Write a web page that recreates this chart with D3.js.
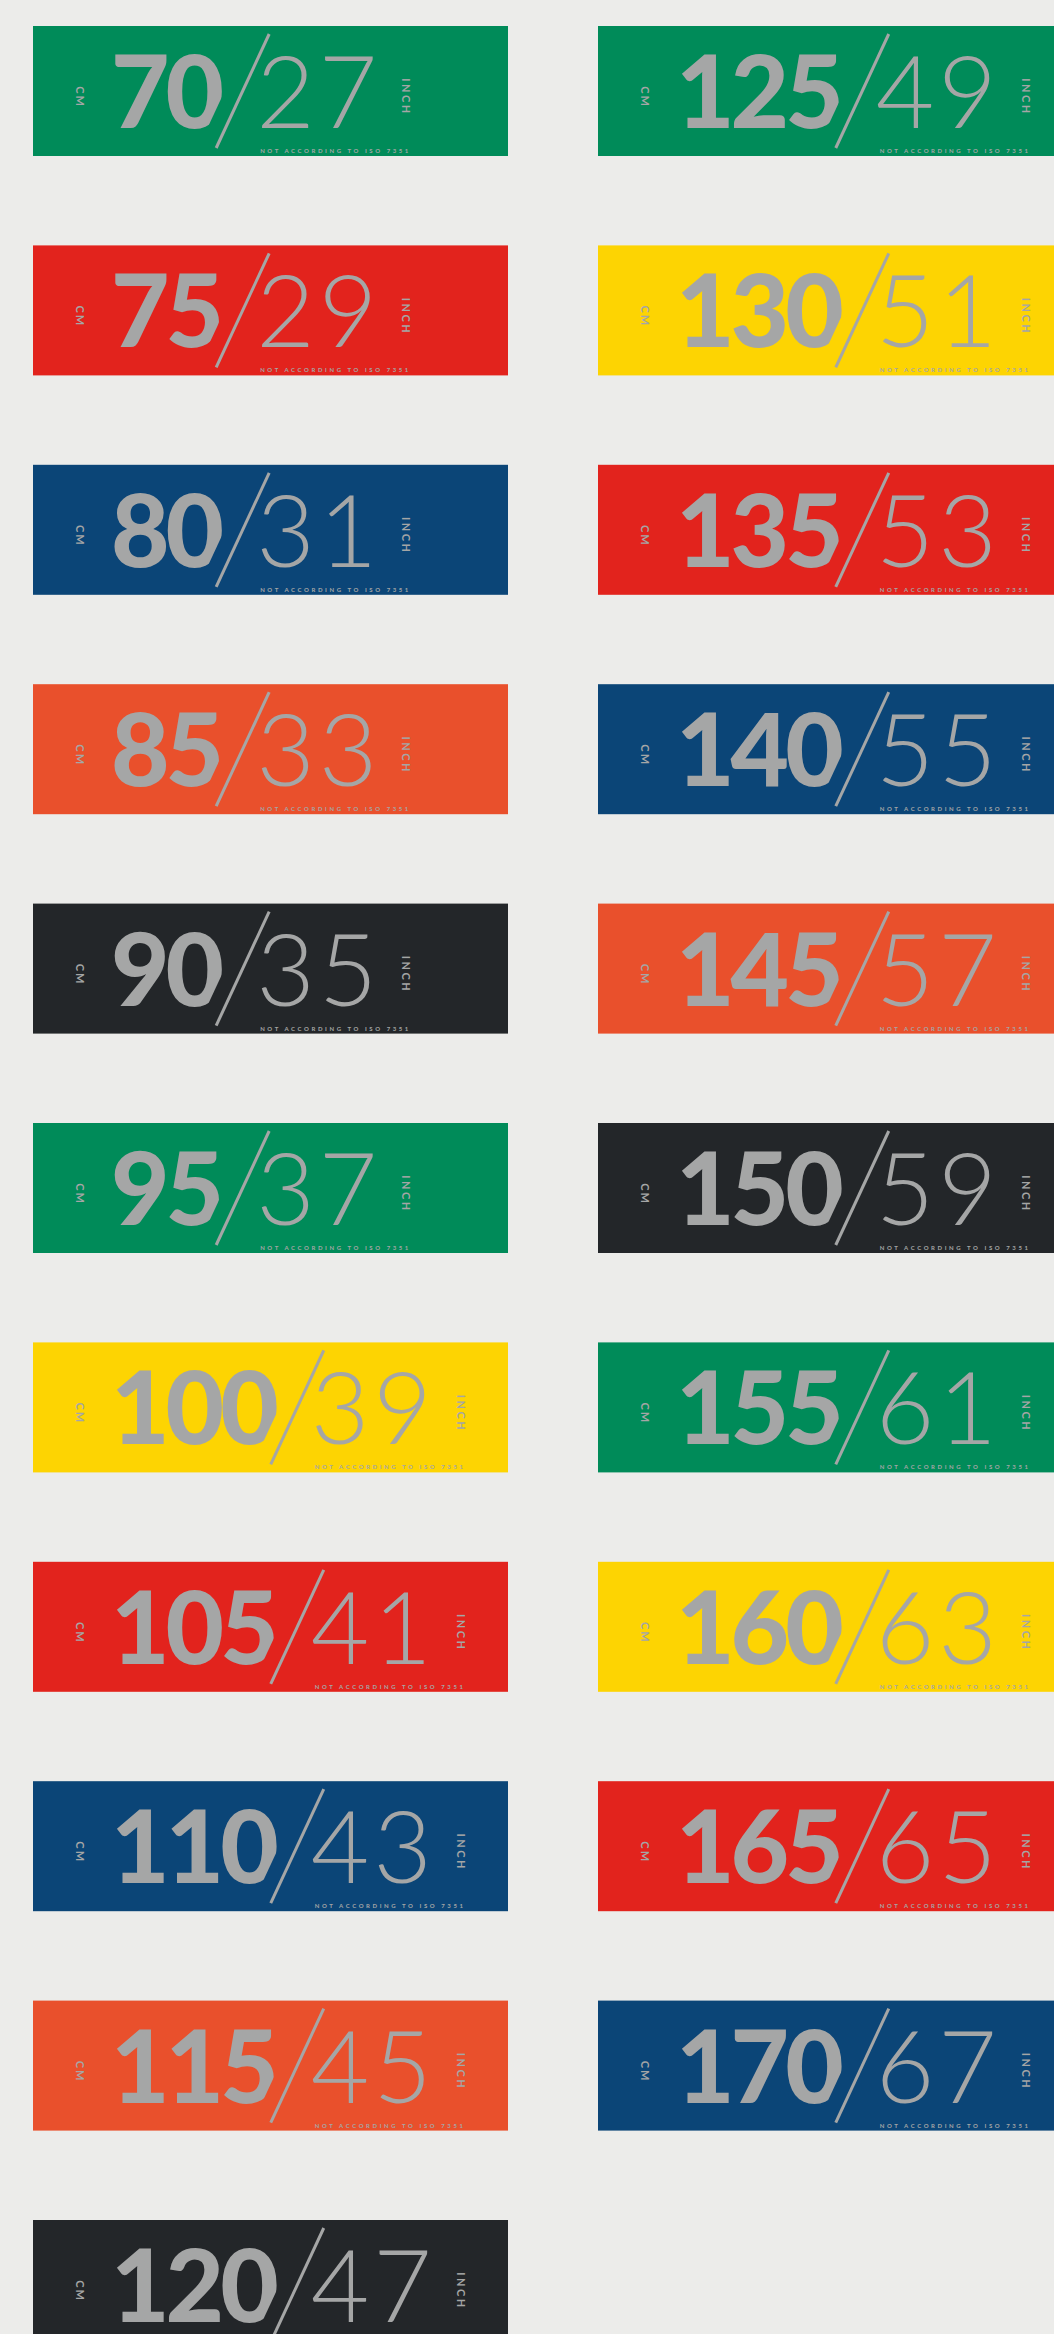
<!DOCTYPE html>
<html lang="en">
<head>
  <meta charset="UTF-8">
  <title>Size tags cm / inch</title>
  <style>
    html, body { margin: 0; padding: 0; background: #ececea; }
    svg { display: block; }
  </style>
</head>
<body>
  <div id="tags"></div>
  <script src="https://d3js.org/d3.v7.min.js"></script>
  <script>

    const width = 1054,
          height = 2334;

    // size values, left column top to bottom then right column
    const cmSizes = [70, 75, 80, 85, 90, 95, 100, 105, 110, 115, 120,
                     125, 130, 135, 140, 145, 150, 155, 160, 165, 170];
    const inchSizes = [27, 29, 31, 33, 35, 37, 39, 41, 43, 45, 47,
                       49, 51, 53, 55, 57, 59, 61, 63, 65, 67];
    const tagColors = ["green", "red", "navy", "orange", "black", "green", "yellow", "red", "navy", "orange", "black",
                       "green", "yellow", "red", "navy", "orange", "black", "green", "yellow", "red", "navy"];
    const rowsPerColumn = 11;

    const palette = {
      green: "#008b59",
      red: "#e2231d",
      navy: "#0b4577",
      orange: "#e9502c",
      black: "#232629",
      yellow: "#fdd402"
    };
    const ink = "#a5a6a6";

    const tagW = 475, tagH = 130;

    const col = d3.scaleLinear([0, 1], [33, 598]);
    const row = d3.scaleLinear([0, rowsPerColumn - 1], [26, 2220]);

    const data = cmSizes.map((cm, i) => ({
      cm: cm,
      inch: inchSizes[i],
      color: palette[tagColors[i]],
      col: Math.floor(i / rowsPerColumn),
      row: i % rowsPerColumn
    }));

    const svg = d3.select("#tags")
      .append("svg")
      .attr("width", width)
      .attr("height", height);

    const defs = svg.append("defs");

    const tag = svg.selectAll("g.tag")
      .data(data)
      .join("g")
      .attr("class", "tag")
      .attr("transform", d => `translate(${col(d.col)},${row(d.row)})`);

    tag.append("rect")
      .attr("width", tagW)
      .attr("height", tagH)
      .attr("fill", d => d.color);

    // little "CM" on the left
    tag.append("text")
      .attr("transform", "translate(47,71) rotate(90)")
      .attr("text-anchor", "middle")
      .attr("dy", "0.35em")
      .attr("fill", ink)
      .style("font-family", "Lato, sans-serif")
      .style("font-weight", 700)
      .style("font-size", "11px")
      .style("letter-spacing", "2px")
      .text("CM");

    const bigX = 78;
    const big = tag.append("text")
      .attr("x", bigX)
      .attr("y", 102)
      .attr("fill", ink)
      .style("font-family", "Lato, sans-serif")
      .style("font-weight", 900)
      .style("font-size", "101px")
      .style("letter-spacing", "-4px")
      .text(d => d.cm);

    // slash: bottom (xb,122) to top (xb+53,8)
    const slope = 53 / 114;

    big.each(function(d, i) {
      const w = this.getComputedTextLength();
      d.xb = bigX + w - 4;
      d.xt = d.xb + 53;
      // cut the last digit along a line parallel to the slash
      const cut = 18;
      const x0 = d.xb + 122 * slope - cut,
            x1 = d.xb - 8 * slope - cut;
      defs.append("clipPath")
        .attr("id", "cut" + i)
        .append("polygon")
        .attr("points", [[0, 0], [x0, 0], [x1, tagH], [0, tagH]].join(" "));
      d3.select(this).attr("clip-path", `url(#cut${i})`);
    });

    tag.append("line")
      .attr("x1", d => d.xb)
      .attr("y1", 122)
      .attr("x2", d => d.xt)
      .attr("y2", 8)
      .attr("stroke", ink)
      .attr("stroke-width", 3);

    const small = tag.append("text")
      .attr("x", d => d.xb + 40)
      .attr("y", 102)
      .attr("fill", ink)
      .style("font-family", "Lato, sans-serif")
      .style("font-weight", 300)
      .style("font-size", "101px")
      .style("letter-spacing", "4px")
      .text(d => d.inch);

    small.each(function(d) {
      d.xe = d.xb + 40 + this.getComputedTextLength() - 4;
    });

    tag.append("text")
      .attr("transform", d => `translate(${d.xe + 29},71) rotate(90)`)
      .attr("text-anchor", "middle")
      .attr("dy", "0.35em")
      .attr("fill", ink)
      .style("font-family", "Lato, sans-serif")
      .style("font-weight", 700)
      .style("font-size", "11px")
      .style("letter-spacing", "2.5px")
      .text("INCH");

    tag.append("text")
      .attr("x", d => d.xb + 44)
      .attr("y", 127)
      .attr("fill", ink)
      .attr("textLength", d => d.xe + 31 - (d.xb + 44))
      .attr("lengthAdjust", "spacing")
      .style("font-family", "Lato, sans-serif")
      .style("font-weight", 700)
      .style("font-size", "6px")
      .text("NOT ACCORDING TO ISO 7351");

  </script>
</body>
</html>
